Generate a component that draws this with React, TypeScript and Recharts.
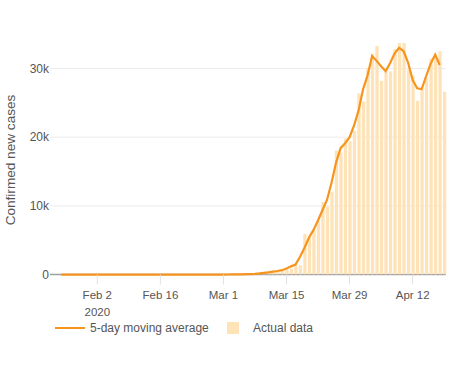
import React from 'react';
import { ComposedChart, Bar, Line, XAxis, YAxis, CartesianGrid, Legend } from 'recharts';

// Daily confirmed new cases, Jan 25 2020 (day 0) .. Apr 19 2020 (day 85)
const actualCases = [
  0, 3, 0, 0, 0, 1, 1,
  1, 1, 3, 0, 1, 0, 0,
  0, 0, 1, 0, 0, 1, 0,
  0, 0, 0, 0, 0, 0, 2,
  0, 0, 36, 0, 6, 1, 2,
  8, 6, 23, 20, 31, 68, 45,
  140, 116, 65, 376, 322, 382, 516,
  548, 772, 900, 1400, 1362, 5894, 5421,
  6392, 7783, 10571, 9893, 12038, 18058, 17821,
  19821, 19408, 20921, 26365, 25200, 30081, 32133,
  33264, 28222, 29595, 29556, 32829, 34000, 35098,
  29861, 28917, 25306, 27051, 28680, 31451, 31905,
  32491, 26612,
];

// 5-day moving average, Jan 25 (day 0) .. Apr 18 (day 84)
const movingAverage = [
  0, 0, 0, 0, 0, 0, 0,
  0, 0, 0, 0, 0, 0, 0,
  0, 0, 0, 0, 0, 0, 0,
  0, 0, 0, 0, 0, 0, 0,
  0, 0, 0, 0, 0, 0, 0,
  0, 10, 15, 20, 30, 40, 60,
  80, 110, 170, 250, 330, 420, 520,
  640, 900, 1200, 1450, 2600, 3900, 5400,
  6500, 7900, 9400, 10900, 13400, 16300, 18400,
  19100, 20000, 21700, 23900, 27000, 29000, 31800,
  31100, 30300, 29600, 30800, 32200, 33000, 32500,
  30800, 28300, 27100, 27000, 28900, 30700, 32000,
  30500,
];

const tickDays = [8, 22, 36, 50, 64, 78];
const tickLabels = ['Feb 2', 'Feb 16', 'Mar 1', 'Mar 15', 'Mar 29', 'Apr 12'];
const yearLabel = '2020';
const yTicks = [0, 10000, 20000, 30000];
const gridTicks = [10000, 20000, 30000];
const zeroTick = [0];
const yDomain = [0, 33700];

const seriesNames = ['5-day moving average', 'Actual data'];

const LINE_COLOR = '#f7941e';
const BAR_COLOR = '#ffe3b8';
const TEXT_COLOR = '#555';

const data = actualCases.map((v, i) => ({
  day: i,
  actual: v,
  avg: i < movingAverage.length ? movingAverage[i] : null,
}));

const XTick = (props: any) => {
  const { x, y, payload } = props;
  const idx = tickDays.indexOf(payload.value);
  return (
    <g transform={`translate(${x},${y})`}>
      <text x={0} y={0} dy="0.71em" textAnchor="middle" fill={TEXT_COLOR} fontSize={11.5}>
        {tickLabels[idx]}
      </text>
      {idx === 0 && (
        <text x={0} y={16.5} dy="0.71em" textAnchor="middle" fill={TEXT_COLOR} fontSize={11.5}>
          {yearLabel}
        </text>
      )}
    </g>
  );
};

const LegendContent = () => (
  <div style={{ position: 'relative', width: 300, height: 24, fontSize: 12, color: TEXT_COLOR }}>
    <svg width={30} height={24} style={{ position: 'absolute', left: 0, top: 0 }}>
      <line x1={0} y1={12} x2={30} y2={12} stroke={LINE_COLOR} strokeWidth={2} />
    </svg>
    <span style={{ position: 'absolute', left: 35, top: 0, lineHeight: '24px', whiteSpace: 'nowrap' }}>
      {seriesNames[0]}
    </span>
    <div style={{ position: 'absolute', left: 172, top: 6, width: 12, height: 12, background: BAR_COLOR }} />
    <span style={{ position: 'absolute', left: 198, top: 0, lineHeight: '24px', whiteSpace: 'nowrap' }}>
      {seriesNames[1]}
    </span>
  </div>
);

export default function App() {
  return (
    <div
      style={{
        position: 'absolute',
        left: 0,
        top: 0,
        width: 465,
        height: 387,
        background: '#fff',
        fontFamily: "'Liberation Sans', Arial, sans-serif",
      }}
    >
      <ComposedChart
        width={465}
        height={387}
        data={data}
        margin={{ top: 43, right: 19, left: 0, bottom: 48.4 }}
      >
        <CartesianGrid
          horizontal={true}
          vertical={false}
          stroke="#ececec"
          strokeWidth={1}
          horizontalValues={gridTicks}
        />
        <CartesianGrid
          horizontal={true}
          vertical={false}
          stroke="#a0a0a0"
          strokeWidth={1.5}
          horizontalValues={zeroTick}
        />
        <XAxis
          dataKey="day"
          type="number"
          domain={[-2.5, 85.4]}
          ticks={tickDays}
          interval={0}
          height={40}
          tick={<XTick />}
          tickSize={10}
          tickMargin={6.5}
          tickLine={{ stroke: '#e2e2e2' }}
          axisLine={false}
        />
        <YAxis
          type="number"
          domain={yDomain}
          allowDataOverflow
          ticks={yTicks}
          width={50}
          axisLine={false}
          tickLine={false}
          tickSize={0}
          tickMargin={1}
          tick={{ fill: TEXT_COLOR, fontSize: 12 }}
          tickFormatter={(v: number) => (v === 0 ? '0' : `${v / 1000}k`)}
          label={{
            content: () => (
              <text
                x={15}
                y={160}
                transform="rotate(-90 15 160)"
                textAnchor="middle"
                fill={TEXT_COLOR}
                fontSize={13.6}
              >
                Confirmed new cases
              </text>
            ),
          }}
        />
        <YAxis yAxisId="avg" type="number" domain={yDomain} hide />
        <Legend
          verticalAlign="bottom"
          content={<LegendContent />}
          wrapperStyle={{ position: 'absolute', top: 316, left: 55, width: 300, height: 24 }}
        />
        <Bar dataKey="actual" fill={BAR_COLOR} barSize={3.3} isAnimationActive={false} />
        <Line
          yAxisId="avg"
          dataKey="avg"
          type="linear"
          stroke={LINE_COLOR}
          strokeWidth={2.2}
          dot={false}
          activeDot={false}
          isAnimationActive={false}
        />
      </ComposedChart>
    </div>
  );
}
